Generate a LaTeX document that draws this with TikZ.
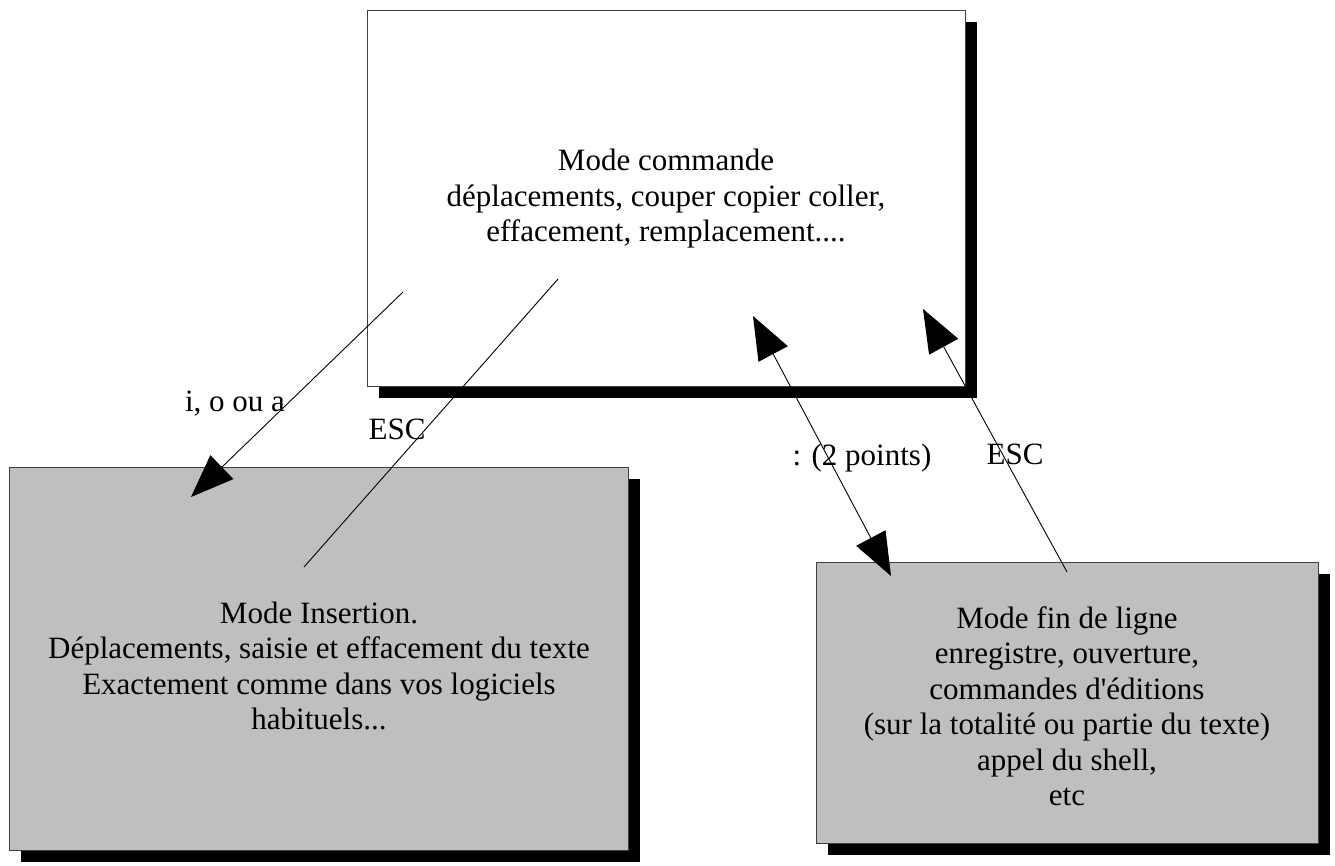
\documentclass[tikz,border=0pt]{standalone}
\usepackage{fontspec}
\setmainfont{Liberation Serif}
\usetikzlibrary{arrows.meta,shadows}
\begin{document}
\begin{tikzpicture}[x=1pt,y=-1pt,
  box/.style={draw=black!75,line width=1pt,rectangle,inner sep=0pt,
    drop shadow={shadow xshift=12pt,shadow yshift=-12pt,fill=black,opacity=1}},
  txt/.style={align=center,inner sep=0pt,font=\fontsize{31}{35.5}\selectfont},
  lbl/.style={inner sep=0pt,font=\fontsize{31}{35.5}\selectfont},
  conn/.style={line width=0.9pt,draw=black},
  tip/.style={-{Triangle[length=43pt,width=33pt]}}
]
\useasboundingbox (0,0) rectangle (1335,865);
% boxes
\node[box,fill=white,minimum width=598pt,minimum height=376pt] (cmd) at (666,198) {};
\node[box,fill=black!25,minimum width=619pt,minimum height=383pt] (ins) at (318.5,658.5) {};
\node[box,fill=black!25,minimum width=502pt,minimum height=281pt] (fin) at (1067,702.5) {};
% texts
\node[txt] (cmdtxt) at (666,199) {Mode commande\\déplacements, couper copier coller,\\effacement, remplacement....};
\node[txt] (instxt) at (319,666) {Mode Insertion.\\Déplacements, saisie et effacement du texte\\Exactement comme dans vos logiciels\\habituels...};
\node[txt] (fintxt) at (1067,706) {Mode fin de ligne\\enregistre, ouverture,\\commandes d\textquotesingle éditions\\(sur la totalité ou partie du texte)\\appel du shell,\\etc};
% connector end points
\coordinate (a1s) at (403,292);
\coordinate (a1e) at (191,497);
\coordinate (e1s) at (558,279);
\coordinate (e1e) at (304,567);
\coordinate (a3s) at (753,316);
\coordinate (a3e) at (891,576);
\coordinate (a4s) at (1067,572);
\coordinate (a4e) at (923,309);
% connectors
\draw[conn,tip] (a1s) -- (a1e);
\draw[conn] (e1s) -- (e1e);
\draw[conn,{Triangle[length=43pt,width=33pt]}-{Triangle[length=43pt,width=33pt]}] (a3s) -- (a3e);
\draw[conn,tip] (a4s) -- (a4e);
% labels
\node[lbl] (l1) at (235,404) {i, o ou a};
\node[lbl] (l2) at (397,429) {ESC};
\node[lbl] (l3) at (862,458) {: (2 points)};
\node[lbl] (l4) at (1015,454) {ESC};
\end{tikzpicture}
\end{document}
